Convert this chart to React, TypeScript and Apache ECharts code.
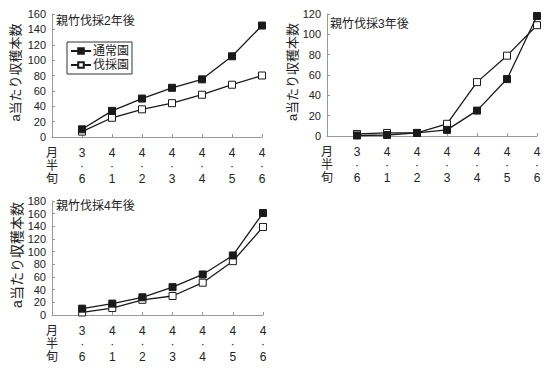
import React, { useEffect, useRef } from "react";
import * as echarts from "echarts";

const categories = ["月\n半\n旬", "3\n·\n6", "4\n·\n1", "4\n·\n2", "4\n·\n3", "4\n·\n4", "4\n·\n5", "4\n·\n6"];
const titles = ["親竹伐採2年後", "親竹伐採3年後", "親竹伐採4年後"];
const seriesNames = ["通常園", "伐採園"];
const yName = "a当たり収穫本数";

const normal2 = [null, 10, 34, 50, 64, 75, 105, 145];
const cut2 = [null, 7, 25, 36, 44, 55, 68, 80];
const normal3 = [null, 0.5, 1, 3, 6, 25, 56, 118];
const cut3 = [null, 2, 3, 3, 12, 53, 79, 109];
const normal4 = [null, 10, 18, 28, 44, 64, 94, 161];
const cut4 = [null, 4, 11, 24, 30, 51, 85, 139];

const yMax = [160, 120, 180];

const FONT = "'Liberation Sans', 'Noto Sans CJK JP', sans-serif";
const TEXT = "#222";
const AXIS = "#999";

export default function App() {
  const ref = useRef<HTMLDivElement>(null);
  useEffect(() => {
    if (!ref.current) return;
    const chart = echarts.init(ref.current, null, { renderer: "svg" });
    const grids = [
      { left: 52, top: 14, width: 210, height: 123 },
      { left: 327, top: 14, width: 210, height: 122 },
      { left: 52, top: 201, width: 211, height: 114 },
    ];
    const nameGaps = [30, 26, 25];
    const nameSizes = [13, 13, 14];
    const xAxis = grids.map((_, i) => ({
      type: "category",
      gridIndex: i,
      data: categories,
      boundaryGap: false,
      axisLine: { lineStyle: { color: AXIS, width: 1 } },
      axisTick: { inside: true, length: 3, lineStyle: { color: AXIS } },
      axisLabel: {
        color: TEXT,
        fontFamily: FONT,
        fontSize: 12,
        lineHeight: 13,
        margin: 9,
        interval: 0,
      },
      splitLine: { show: false },
    }));
    const yAxis = grids.map((_, i) => ({
      type: "value",
      gridIndex: i,
      min: 0,
      max: yMax[i],
      interval: 20,
      name: yName,
      nameLocation: "middle",
      nameRotate: 90,
      nameGap: nameGaps[i],
      nameTextStyle: { color: TEXT, fontFamily: FONT, fontSize: nameSizes[i], padding: [0, 0, 0, 6] },
      axisLine: { show: true, lineStyle: { color: AXIS, width: 1 } },
      axisTick: { show: true, inside: true, length: 3, lineStyle: { color: AXIS } },
      axisLabel: { color: TEXT, fontFamily: FONT, fontSize: 11, margin: 6 },
      splitLine: { show: false },
    }));
    const datasets = [
      [normal2, cut2],
      [normal3, cut3],
      [normal4, cut4],
    ];
    const series: any[] = [];
    datasets.forEach((pair, i) => {
      pair.forEach((data, j) => {
        series.push({
          type: "line",
          name: seriesNames[j],
          xAxisIndex: i,
          yAxisIndex: i,
          data,
          symbol: "rect",
          symbolSize: 7,
          showAllSymbol: true,
          connectNulls: false,
          lineStyle: { color: "#1a1a1a", width: 1.3 },
          itemStyle:
            j === 0
              ? { color: "#1a1a1a", borderColor: "#1a1a1a", borderWidth: 1 }
              : { color: "#ffffff", borderColor: "#1a1a1a", borderWidth: 1 },
          z: j === 0 ? 3 : 2,
        });
      });
    });
    chart.setOption({
      animation: false,
      backgroundColor: "#ffffff",
      title: [
        { text: titles[0], left: 56, top: 15 },
        { text: titles[1], left: 330, top: 18 },
        { text: titles[2], left: 56, top: 200 },
      ].map((t) => ({
        ...t,
        padding: 0,
        textStyle: { color: TEXT, fontFamily: FONT, fontSize: 12, fontWeight: "normal" },
      })),
      legend: {
        data: seriesNames,
        left: 67,
        top: 42,
        orient: "vertical",
        itemWidth: 20,
        itemHeight: 7,
        itemGap: 2,
        padding: [3, 3, 3, 3],
        borderColor: "#333",
        borderWidth: 1,
        textStyle: { color: TEXT, fontFamily: FONT, fontSize: 12, padding: [0, 0, 0, -3] },
      },
      grid: grids,
      xAxis,
      yAxis,
      series,
    });
    return () => chart.dispose();
  }, []);
  return <div ref={ref} style={{ width: 550, height: 372, position: "absolute", left: 0, top: 0 }} />;
}
